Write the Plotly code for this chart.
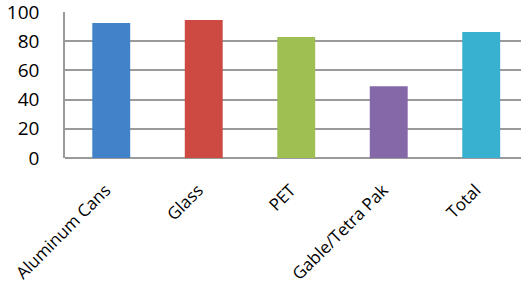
import plotly.graph_objects as go

categories = ["Aluminum Cans", "Glass", "PET", "Gable/Tetra Pak", "Total"]
values = [92.4, 94.5, 82.8, 49.2, 86.3]
colors = ["#4282c8", "#cc4a42", "#9fbf52", "#8468a8", "#38b0d0"]
y_ticks = [0, 20, 40, 60, 80, 100]

idx = list(range(len(categories)))

fig = go.Figure()
fig.add_trace(go.Bar(
    x=idx, y=values, width=0.41,
    marker=dict(color=colors, line=dict(width=0)),
    hovertext=categories,
))
# invisible carrier trace so the label axis is drawn
fig.add_trace(go.Scatter(
    x=idx, y=values, xaxis="x2", mode="markers",
    marker=dict(opacity=0), hoverinfo="skip",
))

x_lo, x_hi = -0.5, 4.43
label_shift = 0.06  # nudges rotated labels left so their ends sit on the bar centres

fig.update_layout(
    width=521, height=291,
    margin=dict(l=65, r=0, t=12, b=133),
    plot_bgcolor="white", paper_bgcolor="white",
    showlegend=False,
    font=dict(family="Open Sans", color="black"),
    xaxis=dict(range=[x_lo, x_hi], showticklabels=False, showgrid=False,
               showline=False, zeroline=False, ticks="", automargin=False),
    xaxis2=dict(range=[x_lo + label_shift, x_hi + label_shift],
                overlaying="x", anchor="y", side="bottom",
                tickvals=idx, ticktext=categories,
                tickangle=-45, tickfont=dict(size=17),
                showgrid=False, showline=False, zeroline=False, ticks="",
                ticklabelstandoff=18, automargin=False, ticklabeloverflow="allow"),
)
fig.update_yaxes(
    range=[0, 100], tickvals=y_ticks, tickfont=dict(size=19),
    showgrid=True, gridcolor="#9a9a9a", gridwidth=1.5,
    zeroline=True, zerolinecolor="#9a9a9a", zerolinewidth=1.5,
    showline=True, linecolor="#9a9a9a", linewidth=1.5,
    ticks="", ticklabelstandoff=20, automargin=False,
    ticklabeloverflow="allow",
)
fig.write_html(
    "out.html",
    config={"displayModeBar": False},
    post_script="document.body.style.margin='0';document.body.style.overflow='hidden';",
)
